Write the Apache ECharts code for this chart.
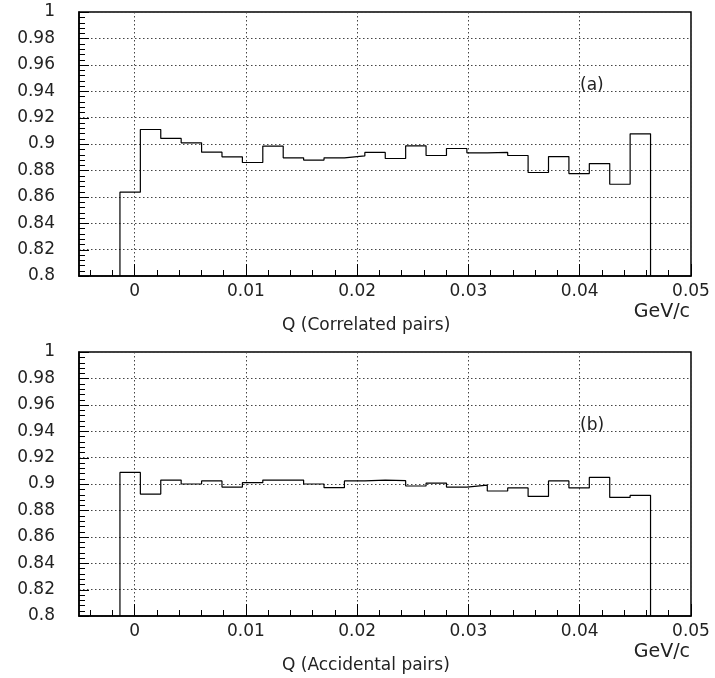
<!DOCTYPE html>
<html>
<head>
<meta charset="utf-8">
<script src="https://cdn.jsdelivr.net/npm/echarts@6/dist/echarts.min.js"></script>
<style>
html,body{margin:0;padding:0;background:#fff;}
#chart{width:715px;height:678px;}
</style>
</head>
<body>
<div id="chart"></div>
<script>
// Bin definition (GeV/c)
const binLow = -0.00132;
const binWidth = 0.001834;
// Panel (a): correlated pairs, bin contents
const correlated = [0.8635, 0.911, 0.9042, 0.9009, 0.8938, 0.8903, 0.886, 0.8984, 0.8895, 0.8878,
  0.8895, 0.891, 0.8936, 0.889, 0.8986, 0.8913, 0.8966, 0.8933, 0.8936, 0.8913,
  0.8784, 0.8905, 0.8776, 0.8852, 0.8695, 0.9077];
// Panel (b): accidental pairs, bin contents
const accidental = [0.9088, 0.8924, 0.903, 0.900, 0.9023, 0.8977, 0.901, 0.903, 0.903, 0.900,
  0.8972, 0.9023, 0.903, 0.9025, 0.8985, 0.9007, 0.8977, 0.8992, 0.8947, 0.897,
  0.8906, 0.9023, 0.897, 0.905, 0.8898, 0.8914];
const xTickValues = [0, 0.01, 0.02, 0.03, 0.04, 0.05];
const xTickLabels = ['0', '0.01', '0.02', '0.03', '0.04', '0.05'];
const xMinorValues = [-0.004, -0.002, 0.002, 0.004, 0.006, 0.008, 0.012, 0.014, 0.016, 0.018,
  0.022, 0.024, 0.026, 0.028, 0.032, 0.034, 0.036, 0.038, 0.042, 0.044, 0.046, 0.048];
const yTickValues = [0.8, 0.82, 0.84, 0.86, 0.88, 0.9, 0.92, 0.94, 0.96, 0.98, 1];
const yTickLabels = ['0.8', '0.82', '0.84', '0.86', '0.88', '0.9', '0.92', '0.94', '0.96', '0.98', '1'];
const yMinorValues = [0.804, 0.808, 0.812, 0.816, 0.824, 0.828, 0.832, 0.836, 0.844, 0.848, 0.852, 0.856,
  0.864, 0.868, 0.872, 0.876, 0.884, 0.888, 0.892, 0.896, 0.904, 0.908, 0.912, 0.916,
  0.924, 0.928, 0.932, 0.936, 0.944, 0.948, 0.952, 0.956, 0.964, 0.968, 0.972, 0.976,
  0.984, 0.988, 0.992, 0.996];
const panelTags = ['(a)', '(b)'];
const xTitles = ['Q (Correlated pairs)', 'Q (Accidental pairs)'];
const unitLabel = 'GeV/c';

const xMin = -0.005, xMax = 0.05;
const yMin = 0.8, yMax = 1;
const FONT = 'DejaVu Sans';
const TXT = '#222';

function histPoints(vals) {
  const pts = [[binLow, yMin]];
  for (let i = 0; i < vals.length; i++) {
    pts.push([binLow + (i + 1) * binWidth, vals[i]]);
  }
  pts.push([binLow + vals.length * binWidth, yMin]);
  return pts;
}

const grids = [
  {left: 79, top: 12, width: 612, height: 264},
  {left: 79, top: 352, width: 612, height: 264}
];

const xAxes = [], yAxes = [], series = [], graphics = [];
[correlated, accidental].forEach((vals, g) => {
  xAxes.push({
    type: 'value', gridIndex: g, min: xMin, max: xMax,
    axisLine: {show: true, onZero: false, lineStyle: {color: '#000', width: 1.5}},
    axisTick: {show: true, inside: true, length: 12, customValues: xTickValues, lineStyle: {color: '#000'}},
    axisLabel: {show: true, customValues: xTickValues, margin: 7,
      formatter: v => { const k = xTickValues.findIndex(t => Math.abs(t - v) < 1e-9); return k >= 0 ? xTickLabels[k] : ''; },
      fontFamily: FONT, fontSize: 17, color: TXT},
    splitLine: {show: true, lineStyle: {color: '#444', type: [1.5, 2.5], width: 1}}
  });
  xAxes.push({
    type: 'value', gridIndex: g, min: xMin, max: xMax, position: 'bottom',
    axisLine: {show: false, onZero: false},
    axisTick: {show: true, inside: true, length: 6, customValues: xMinorValues, lineStyle: {color: '#000'}},
    axisLabel: {show: false},
    splitLine: {show: false}
  });
  yAxes.push({
    type: 'value', gridIndex: g, min: yMin, max: yMax, position: 'left',
    axisLine: {show: true, onZero: false, lineStyle: {color: '#000', width: 1.5}},
    axisTick: {show: false, customValues: yTickValues},
    axisLabel: {show: true, margin: 24, customValues: yTickValues,
      formatter: v => { const k = yTickValues.findIndex(t => Math.abs(t - v) < 1e-9); return k >= 0 ? yTickLabels[k] : ''; },
      fontFamily: FONT, fontSize: 17, color: TXT},
    splitLine: {show: true, lineStyle: {color: '#444', type: [1.5, 2.5], width: 1}}
  });
  series.push({
    type: 'line', xAxisIndex: g * 2, yAxisIndex: g, step: 'start',
    data: histPoints(vals), showSymbol: false, symbol: 'none',
    lineStyle: {color: '#000', width: 1.2}, silent: true, animation: false, z: 5
  });
  const top = grids[g].top;
  graphics.push({type: 'text', left: 580, top: top + 65,
    style: {text: panelTags[g], font: '17px "' + FONT + '"', fill: TXT}});
  graphics.push({type: 'text', right: 25, top: top + 291,
    style: {text: unitLabel, font: '19px "' + FONT + '"', fill: TXT}});
  graphics.push({type: 'text', left: 282, top: top + 305,
    style: {text: xTitles[g], font: '17px "' + FONT + '"', fill: TXT}});
});

const chart = echarts.init(document.getElementById('chart'), null, {renderer: 'canvas'});
chart.setOption({
  animation: false,
  backgroundColor: '#fff',
  grid: grids.map(g => Object.assign({show: true, borderColor: '#000', borderWidth: 1.5, backgroundColor: 'transparent'}, g)),
  xAxis: xAxes,
  yAxis: yAxes,
  series: series,
  graphic: graphics
});

// Inside ticks on the y axes, positioned through the library's own scales
const tickGraphics = graphics.slice();
[0, 1].forEach(g => {
  [[yTickValues, 10], [yMinorValues, 6]].forEach(([vals, len]) => {
    vals.forEach(v => {
      const p = chart.convertToPixel({xAxisIndex: g * 2, yAxisIndex: g}, [xMin, v]);
      if (!p) return;
      const y = Math.round(p[1]) + 0.5;
      tickGraphics.push({type: 'line', z: 100, silent: true,
        shape: {x1: p[0], y1: y, x2: p[0] + len, y2: y},
        style: {stroke: '#000', lineWidth: 1}});
    });
  });
});
chart.setOption({graphic: tickGraphics}, {replaceMerge: ['graphic']});
</script>
</body>
</html>
